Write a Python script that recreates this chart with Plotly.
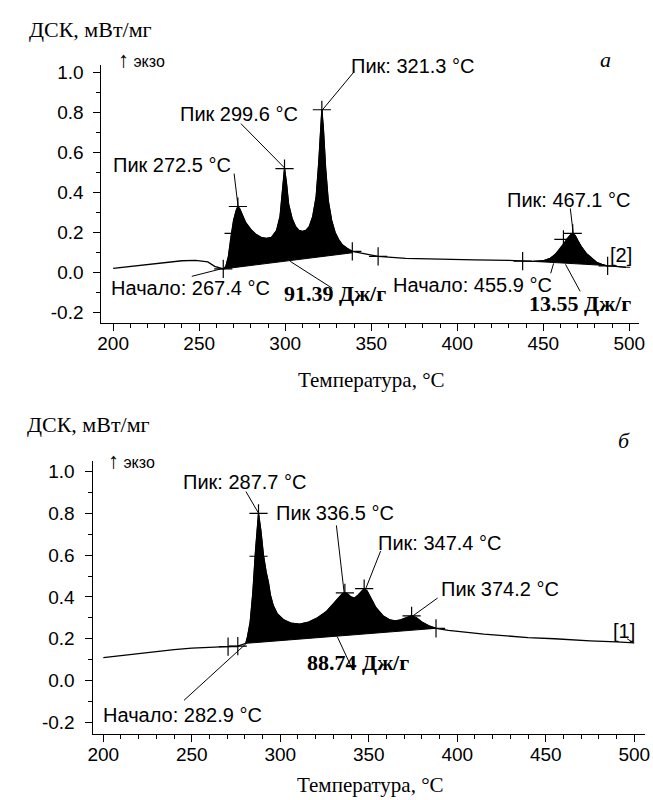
import numpy as np
import plotly.graph_objects as go

W, H = 653, 800

# ---------------- data: chart a ----------------
a_temp = [200, 210, 220, 230, 240, 248, 255, 259, 264, 265.5, 267, 268.5, 270, 271.5, 272.5,
          273.5, 275, 277, 280, 283, 286, 289, 292, 295, 297, 298.5, 299.6, 300.7, 302, 304,
          306, 308, 310, 312, 314, 316, 318, 319.5, 320.5, 321.3, 322.2, 323.5, 325, 327, 329,
          331, 333, 336, 339, 345, 354, 370, 390, 410, 430, 438, 444, 450, 454, 457, 460, 462,
          464, 466, 467.1, 468.5, 470, 472, 475, 478, 481, 484, 487, 492, 498]
a_dsc = [0.02, 0.03, 0.04, 0.05, 0.058, 0.06, 0.052, 0.03, 0.017, 0.03, 0.08, 0.18, 0.26, 0.31, 0.33,
         0.32, 0.29, 0.25, 0.215, 0.19, 0.175, 0.17, 0.175, 0.21, 0.28, 0.40, 0.52, 0.45, 0.34, 0.27,
         0.23, 0.21, 0.205, 0.21, 0.23, 0.28, 0.38, 0.55, 0.72, 0.815, 0.72, 0.52, 0.36, 0.26, 0.20,
         0.165, 0.14, 0.12, 0.105, 0.095, 0.08, 0.07, 0.065, 0.062, 0.06, 0.056, 0.055, 0.058, 0.07,
         0.09, 0.12, 0.145, 0.17, 0.19, 0.195, 0.185, 0.16, 0.13, 0.095, 0.07, 0.05, 0.04, 0.032,
         0.03, 0.025]
a_regions = [(264, 339), (444, 487)]
a_region_base = [(0.017, 0.098), (0.055, 0.034)]
a_cross_x = [264, 270, 272.5, 299.6, 321.3, 339, 354, 438, 461.7, 467.1, 487.4]
a_cross_y = [0.017, 0.195, 0.33, 0.52, 0.815, 0.105, 0.08, 0.056, 0.165, 0.195, 0.032]
a_labels = ["Пик 272.5 °C", "Пик 299.6 °C", "Пик: 321.3 °C", "Пик: 467.1 °C",
            "Начало: 267.4 °C", "Начало: 455.9 °C", "[2]"]
a_bold_labels = ["91.39 Дж/г", "13.55 Дж/г"]

# ---------------- data: chart b ----------------
b_temp = [200, 210, 220, 230, 240, 250, 260, 270.5, 276, 280.5, 281.5, 283, 284.5, 286, 287.7,
          289, 290.5, 292, 293.3, 294.4, 296, 298.3, 302, 306, 311, 316, 321, 326, 330, 333, 335,
          336.5, 338, 340, 342, 344, 346, 347.4, 349, 351, 354, 358, 362, 365, 368, 371, 374.2,
          377, 380, 384, 388, 395, 405, 415, 426, 440, 455, 463, 475, 490, 500]
b_dsc = [0.11, 0.12, 0.13, 0.14, 0.148, 0.155, 0.16, 0.162, 0.165, 0.178, 0.21, 0.28, 0.42, 0.62, 0.80,
         0.72, 0.60, 0.52, 0.47, 0.41, 0.36, 0.32, 0.29, 0.275, 0.27, 0.28, 0.30, 0.33, 0.37, 0.40, 0.415,
         0.42, 0.415, 0.40, 0.395, 0.41, 0.43, 0.44, 0.43, 0.40, 0.35, 0.31, 0.29, 0.285, 0.29, 0.30, 0.31,
         0.30, 0.28, 0.262, 0.25, 0.24, 0.23, 0.222, 0.215, 0.205, 0.20, 0.195, 0.19, 0.185, 0.18]
b_regions = [(280.5, 388)]
b_region_base = [(0.178, 0.25)]
b_cross_x = [270.5, 276, 287.7, 287.7, 336.5, 347.4, 374.2, 388]
b_cross_y = [0.162, 0.165, 0.80, 0.595, 0.42, 0.44, 0.31, 0.25]
b_labels = ["Пик: 287.7 °C", "Пик 336.5 °C", "Пик: 347.4 °C", "Пик 374.2 °C",
            "Начало: 282.9 °C", "[1]"]
b_bold_labels = ["88.74 Дж/г"]

x_ticks = [200, 250, 300, 350, 400, 450, 500]
x_tick_text = ["200", "250", "300", "350", "400", "450", "500"]
y_ticks = [-0.2, 0.0, 0.2, 0.4, 0.6, 0.8, 1.0]
y_tick_text = ["-0.2", "0.0", "0.2", "0.4", "0.6", "0.8", "1.0"]

y_title = "ДСК, мВт/мг"
x_title = "Температура, °С"
exo_arrow = "↑"
exo_text = "экзо"
panel_names = ["а", "б"]

# ---------------- layout positions (not data) ----------------
a_label_pos = [(234.3, 0.54), (273.4, 0.795), (373.7, 1.035), (464.6, 0.365),
               (244.9, -0.08), (408.6, -0.065), (494.9, 0.085)]
a_label_lead = [((270.3, 0.495), (272.6, 0.33)), ((274.3, 0.745), (300.0, 0.52)),
                ((340.0, 1.005), (321.7, 0.815)), ((465.7, 0.32), (467.4, 0.195)),
                ((245.7, -0.02), (264.0, 0.02)), ((454.3, -0.005), (456.0, 0.045)),
                ((494.0, 0.028), (500.5, 0.025))]
a_bold_pos = [(329.1, -0.105), (471.1, -0.155)]
a_bold_lead = [((302.9, 0.055), (327.4, -0.08)), ((462.9, 0.04), (471.4, -0.095))]

b_label_pos = [(280.0, 0.952), (330.8, 0.80), (389.7, 0.657), (424.2, 0.438),
               (245.0, -0.167), (494.4, 0.238)]
b_label_lead = [((280.6, 0.905), (287.8, 0.80)), ((331.7, 0.743), (336.1, 0.42)),
                ((356.7, 0.62), (348.3, 0.44)), ((388.9, 0.395), (375.0, 0.31)),
                ((245.6, -0.095), (280.6, 0.176)), ((496.0, 0.2), (499.5, 0.18))]
b_bold_pos = [(343.9, 0.086)]
b_bold_lead = [((332.2, 0.21), (340.6, 0.057))]

SANS = "Liberation Sans"
SERIF = "Liberation Serif"

fig = go.Figure()


def add_panel(xs, ys, regions, bases, cx, cy, xa, ya):
    xs = np.asarray(xs, float)
    ys = np.asarray(ys, float)
    for (x0, x1), (b0, b1) in zip(regions, bases):
        m = (xs > x0) & (xs < x1)
        px = [x0] + list(xs[m]) + [x1, x1, x0]
        py = [float(np.interp(x0, xs, ys))] + list(ys[m]) + [float(np.interp(x1, xs, ys)), b1, b0]
        fig.add_trace(go.Scatter(x=px, y=py, mode="lines", fill="toself", fillcolor="black",
                                 line=dict(color="black", width=1), xaxis=xa, yaxis=ya,
                                 showlegend=False, hoverinfo="skip"))
    fig.add_trace(go.Scatter(x=xs, y=ys, mode="lines", line=dict(color="black", width=1.3),
                             xaxis=xa, yaxis=ya, showlegend=False))
    fig.add_trace(go.Scatter(x=cx, y=cy, mode="markers",
                             marker=dict(symbol="cross-thin", size=13,
                                         line=dict(color="black", width=1.2)),
                             xaxis=xa, yaxis=ya, showlegend=False))


add_panel(a_temp, a_dsc, a_regions, a_region_base, a_cross_x, a_cross_y, "x", "y")
add_panel(b_temp, b_dsc, b_regions, b_region_base, b_cross_x, b_cross_y, "x2", "y2")

annotations = []
shapes = []


def add_labels(texts, pos, leads, xr, yr, bold=False):
    for t, (x, y), ((x0, y0), (x1, y1)) in zip(texts, pos, leads):
        annotations.append(dict(
            x=x, y=y, xref=xr, yref=yr, text=("<b>%s</b>" % t) if bold else t,
            showarrow=False,
            font=dict(family=SERIF if bold else SANS, size=22 if bold else 20, color="black")))
        shapes.append(dict(type="line", xref=xr, yref=yr, x0=x0, y0=y0, x1=x1, y1=y1,
                           line=dict(color="black", width=1)))


add_labels(a_labels, a_label_pos, a_label_lead, "x", "y")
add_labels(a_bold_labels, a_bold_pos, a_bold_lead, "x", "y", bold=True)
add_labels(b_labels, b_label_pos, b_label_lead, "x2", "y2")
add_labels(b_bold_labels, b_bold_pos, b_bold_lead, "x2", "y2", bold=True)

# titles in paper coords
for (px, py) in [(22, 28), (20, 424)]:
    annotations.append(dict(x=px / W, y=1 - py / H, xref="paper", yref="paper", text=y_title,
                            xanchor="left", yanchor="middle", showarrow=False,
                            font=dict(family=SERIF, size=22, color="black")))
for (px, py) in [(373, 379), (372, 785)]:
    annotations.append(dict(x=px / W, y=1 - py / H, xref="paper", yref="paper", text=x_title,
                            xanchor="center", yanchor="middle", showarrow=False,
                            font=dict(family=SERIF, size=21, color="black")))
for (px, py) in [(113, 58), (103, 460)]:
    annotations.append(dict(x=px / W, y=1 - py / H, xref="paper", yref="paper",
                            text="<span style='font-size:22px'>%s</span> %s" % (exo_arrow, exo_text),
                            xanchor="left", yanchor="middle", showarrow=False,
                            font=dict(family=SANS, size=16, color="black")))
for (px, py), txt in zip([(618, 43), (638, 440)], panel_names):
    annotations.append(dict(x=px / W, y=1 - py / H, xref="paper", yref="paper",
                            text="<i>%s</i>" % txt, showarrow=False,
                            font=dict(family=SERIF, size=22, color="black")))


def xaxis(domain, rng, anchor):
    return dict(domain=domain, range=rng, anchor=anchor, showline=True, linecolor="black",
                linewidth=1, ticks="outside", ticklen=7, tickcolor="black", tickwidth=1,
                tickvals=x_ticks, ticktext=x_tick_text, showgrid=False, zeroline=False,
                ticklabelstandoff=-4,
                minor=dict(ticks="outside", ticklen=4, dtick=10, tickcolor="black", showgrid=False),
                tickfont=dict(family=SANS, size=19, color="black"))


def yaxis(domain, rng, anchor):
    return dict(domain=domain, range=rng, anchor=anchor, showline=True, linecolor="black",
                linewidth=1, ticks="outside", ticklen=7, tickcolor="black", tickwidth=1,
                tickvals=y_ticks, ticktext=y_tick_text, showgrid=False, zeroline=False,
                ticklabelstandoff=6,
                minor=dict(ticks="outside", ticklen=4, dtick=0.1, tick0=0, tickcolor="black",
                           showgrid=False),
                tickfont=dict(family=SANS, size=19, color="black"))


fig.update_layout(
    width=W, height=H, margin=dict(l=0, r=0, t=0, b=0),
    paper_bgcolor="white", plot_bgcolor="white", showlegend=False,
    xaxis=xaxis([98 / W, 645 / W], [193.14, 505.7], "y"),
    yaxis=yaxis([1 - 322 / H, 1 - 63 / H], [-0.255, 1.04], "x"),
    xaxis2=xaxis([89 / W, 651 / W], [193.9, 506.1], "y2"),
    yaxis2=yaxis([1 - 734 / H, 1 - 460 / H], [-0.257, 1.052], "x2"),
    annotations=annotations, shapes=shapes,
)

fig.write_html("out.html")
